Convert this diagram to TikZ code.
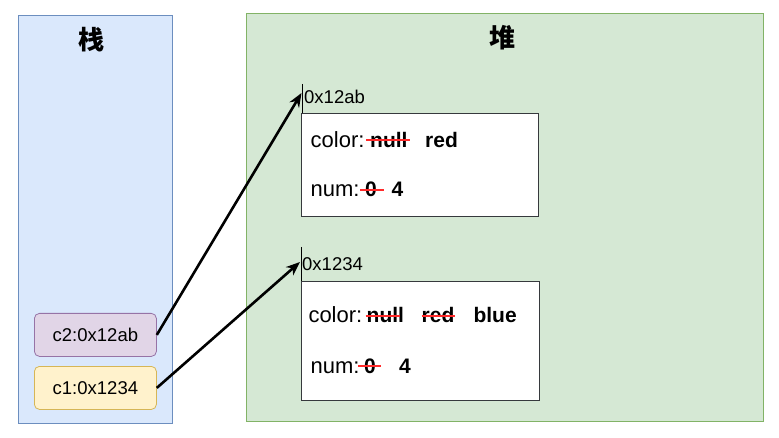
\documentclass[tikz,border=0pt]{standalone}
\usepackage{fontspec}
\setmainfont{Liberation Sans}
\newfontfamily\cjk{Noto Sans CJK SC}
\usetikzlibrary{arrows.meta}
\definecolor{stackfill}{HTML}{DAE8FC}
\definecolor{stackline}{HTML}{6C8EBF}
\definecolor{heapfill}{HTML}{D5E8D4}
\definecolor{heapline}{HTML}{82B366}
\definecolor{purfill}{HTML}{E1D5E7}
\definecolor{purline}{HTML}{9673A6}
\definecolor{yelfill}{HTML}{FFF2CC}
\definecolor{yelline}{HTML}{D6B656}
\definecolor{objline}{HTML}{36393D}
\definecolor{strike}{HTML}{FF2A2A}
\tikzset{
  panel/.style={draw, line width=1pt, inner sep=0pt},
  varbox/.style={draw, rounded corners=5pt, line width=0.8pt, minimum width=122pt, minimum height=43pt, inner sep=0pt, font=\fontsize{18.5}{20}\selectfont},
  objbox/.style={draw=objline, fill=white, line width=1pt, inner sep=0pt},
  txt/.style={anchor=base west, inner sep=0pt, font=\fontsize{22}{24}\selectfont},
  btxt/.style={txt, font=\fontsize{21}{24}\selectfont\bfseries},
  addr/.style={anchor=base west, inner sep=0pt, font=\fontsize{18.5}{20}\selectfont},
  title/.style={inner sep=0pt, font=\fontsize{26}{28}\selectfont\cjk\bfseries},
  strikeline/.style={draw=strike, line width=2.2pt},
  ptr/.style={draw=black, line width=2.6pt, -{Stealth[length=14pt,width=11pt]}},
}
\begin{document}
\begin{tikzpicture}[x=1pt,y=-1pt]
\useasboundingbox (0,0) rectangle (779,438);
% panels
\node[panel, draw=stackline, fill=stackfill, minimum width=154pt, minimum height=408pt, anchor=north west] (stack) at (18,15) {};
\node[panel, draw=heapline, fill=heapfill, minimum width=517pt, minimum height=408pt, anchor=north west] (heap) at (246,13) {};
\node[title] (st) at (91,40) {栈};
\node[title] (ht) at (502,38) {堆};
% variables
\node[varbox, draw=purline, fill=purfill, anchor=north west] (c2) at (34,313) {c2:0x12ab};
\node[varbox, draw=yelline, fill=yelfill, anchor=north west] (c1) at (34,366) {c1:0x1234};
% object boxes
\node[objbox, minimum width=237pt, minimum height=103.5pt, anchor=north west] (o1) at (301,113) {};
\node[objbox, minimum width=237.5pt, minimum height=119pt, anchor=north west] (o2) at (301,281) {};
% address labels
\node[addr] (l1) at (304,104) {0x12ab};
\coordinate (t1) at (302.7,84);
\draw[line width=0.8pt] (t1) -- (t1 |- o1.north);
\node[addr] (l2) at (302,271) {0x1234};
\coordinate (t2) at (301,247);
\draw[line width=0.8pt] (t2) -- (t2 |- o2.north);
\coordinate (a1) at (301.5,93);
\coordinate (a2) at (300,262);
% object 1 contents
\node[txt] (k11) at (310.5,148) {color:};
\node[btxt] (v11) at (370,148) {null};
\node[btxt] (v12) at (425,148) {red};
\node[txt] (k12) at (310.5,197) {num:};
\node[btxt] (v13) at (365,197) {0};
\node[btxt] (v14) at (391.5,197) {4};
\draw[strikeline] ([xshift=-4pt,yshift=8pt]v11.base west) -- ([xshift=2.5pt,yshift=8pt]v11.base east);
\draw[strikeline] ([xshift=-5pt,yshift=7pt]v13.base west) -- ([xshift=7pt,yshift=7pt]v13.base east);
% object 2 contents
\node[txt] (k21) at (308.3,323) {color:};
\node[btxt] (v21) at (366.5,323) {null};
\node[btxt] (v22) at (421.5,323) {red};
\node[btxt] (v23) at (473.3,323) {blue};
\node[txt] (k22) at (310.5,373) {num:};
\node[btxt] (v24) at (364,373) {0};
\node[btxt] (v25) at (399,373) {4};
\draw[strikeline] ([xshift=-1pt,yshift=7pt]v21.base west) -- ([xshift=-4pt,yshift=7pt]v21.base east);
\draw[strikeline] ([xshift=0pt,yshift=7pt]v22.base west) -- ([xshift=0pt,yshift=7pt]v22.base east);
\draw[strikeline] ([xshift=-6pt,yshift=7pt]v24.base west) -- ([xshift=5pt,yshift=7pt]v24.base east);
% pointers
\draw[ptr] (c2.east) -- (a1);
\draw[ptr] (c1.east) -- (a2);
\end{tikzpicture}
\end{document}
